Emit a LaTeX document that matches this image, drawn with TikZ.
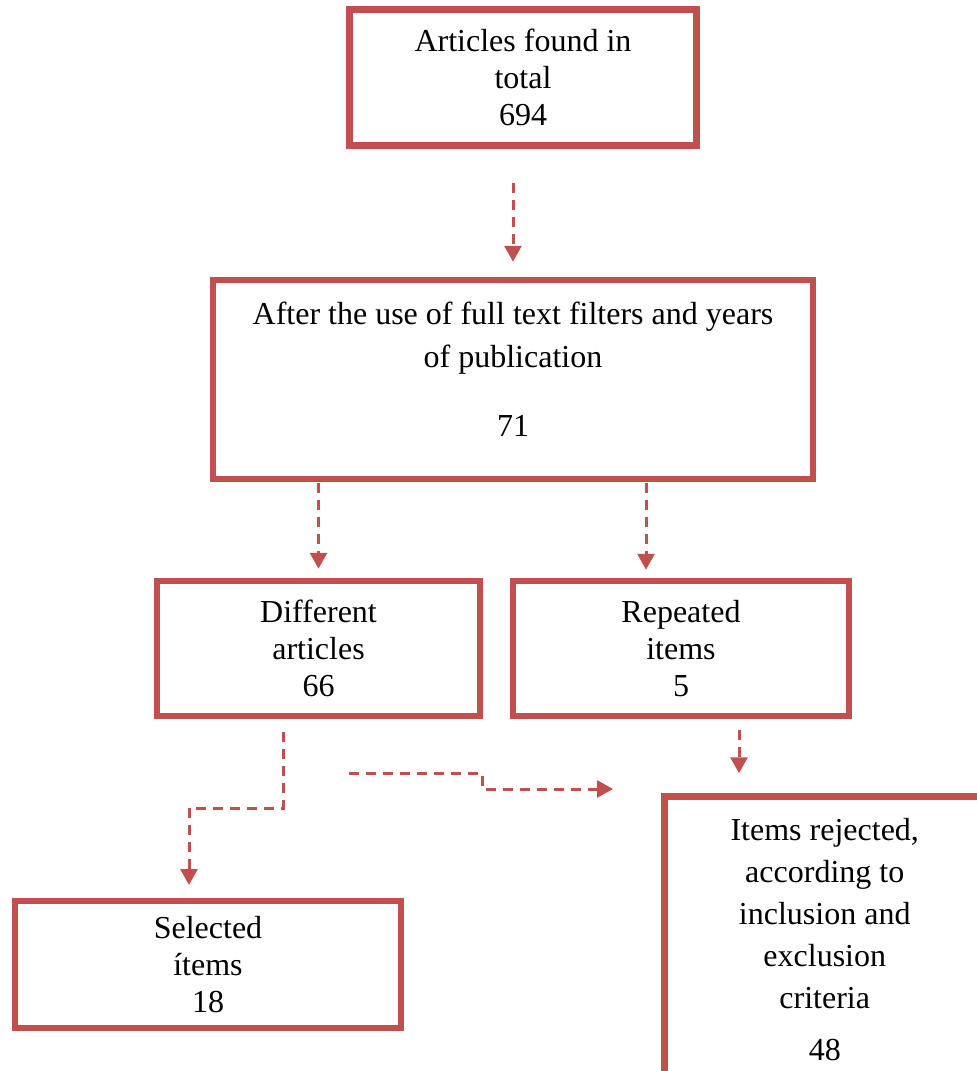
\documentclass[tikz,border=0pt]{standalone}
\usepackage{fontspec}
\setmainfont{Liberation Serif}
\usetikzlibrary{arrows.meta,calc}
\definecolor{boxred}{RGB}{192,80,77}

\begin{document}
\begin{tikzpicture}[x=1pt,y=-1pt,
        box/.style={rectangle,draw=boxred,line width=6.5pt,fill=white,align=center,inner sep=0pt,font=\fontsize{32}{37}\selectfont},
        flow/.style={draw=boxred,line width=3pt,dash pattern=on 10pt off 7pt,-{Triangle[length=16pt,width=17pt]}}]
        \useasboundingbox (0,0) rectangle (977,1071);
        \node[box,minimum width=347pt,minimum height=136pt] (found) at (523,77.5){Articles found in\\total\\694};
        \node[box,minimum width=600pt,minimum height=199pt,font=\fontsize{32}{43}\selectfont,text depth=20pt] (after) at (513,379.5){After the use of full text filters and years\\of publication\\[26pt]71};
        \node[box,minimum width=323pt,minimum height=135pt] (diff) at (318.5,648.5){Different\\articles\\66};
        \node[box,minimum width=336pt,minimum height=135pt] (rep) at (681,648.5){Repeated\\items\\5};
        \node[box,minimum width=386pt,minimum height=127pt] (sel) at (208,964.5){Selected\\ítems\\18};
        \node[box,minimum width=320.5pt,minimum height=286.5pt,font=\fontsize{32}{42}\selectfont] (rej) at (824.75,939.75){Items rejected,\\according to\\inclusion and\\exclusion\\criteria\\[10pt]48};
        \coordinate (gapa) at (349,773);
        \coordinate (gapb) at (613,789);
        \draw[flow,shorten <=34pt,shorten >=15pt] (found.south -| after.north) -- (after.north);
        \draw[flow,shorten <=1pt,shorten >=9pt] (after.south -| diff.north) -- (diff.north);
        \draw[flow,shorten <=1pt,shorten >=8pt] ([xshift=133pt]after.south) -- ([xshift=133pt]after.south |- rep.north);
        \draw[flow,shorten <=11pt,shorten >=20pt] ([xshift=58pt]rep.south) -- ([xshift=58pt]rep.south |- rej.north);
        \draw[flow,shorten <=13pt,shorten >=12.75pt] ([xshift=-35.5pt]diff.south) -- ++(0,89) -| ([xshift=-19pt]sel.north);
        \draw[flow] (gapa) -- ++(133,0) |- (gapb);
\end{tikzpicture}
\end{document}
